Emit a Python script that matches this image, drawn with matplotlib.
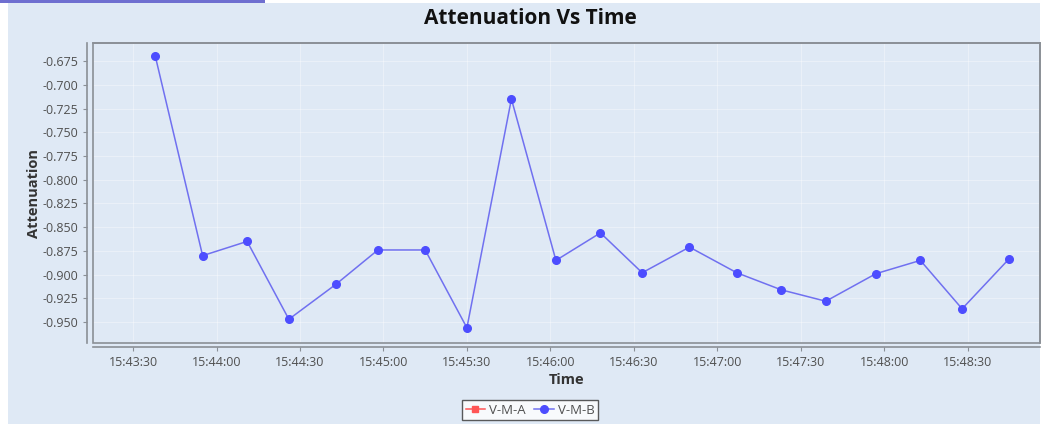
import datetime as dt
import matplotlib
matplotlib.use("Agg")
import matplotlib.pyplot as plt
import matplotlib.dates as mdates
from matplotlib.patches import Rectangle

plt.rcParams['font.family'] = ['Open Sans', 'DejaVu Sans']

times = ["15:43:38", "15:43:55", "15:44:11", "15:44:26", "15:44:43",
         "15:44:58", "15:45:15", "15:45:30", "15:45:46", "15:46:02",
         "15:46:18", "15:46:33", "15:46:50", "15:47:07", "15:47:23",
         "15:47:39", "15:47:57", "15:48:13", "15:48:28", "15:48:45"]
vmb = [-0.670, -0.880, -0.865, -0.947, -0.910,
       -0.874, -0.874, -0.956, -0.715, -0.885,
       -0.856, -0.898, -0.871, -0.898, -0.916,
       -0.928, -0.899, -0.885, -0.936, -0.883]
vma = []

day = dt.date(2020, 1, 1)
t = [dt.datetime.combine(day, dt.datetime.strptime(s, "%H:%M:%S").time()) for s in times]

bg = '#dfe9f5'
fig = plt.figure(figsize=(10.47, 4.24), dpi=100)
fig.patch.set_facecolor('white')
# light panel behind the chart
fig.patches.append(Rectangle((8/1047, 0), (1040-8)/1047, 421/424, transform=fig.transFigure,
                             facecolor=bg, edgecolor='none', zorder=-10))
fig.patches.append(Rectangle((0, 421/424), 265/1047, 3/424, transform=fig.transFigure,
                             facecolor='#6f6fd0', edgecolor='none', zorder=-9))

ax = fig.add_axes([93/1047, 81/424, (1040-93)/1047, 300/424])
ax.set_facecolor(bg)

ax.plot(t, vmb, color='#7070f0', lw=1.1, marker='o', ms=5.5,
        mfc='#4d4dff', mec='#4d4dff', label='V-M-B', zorder=3)
ax.plot(vma, vma, color='#ff5555', lw=1.1, marker='s', ms=5, label='V-M-A')

ax.set_xlim(dt.datetime.combine(day, dt.time(15, 43, 15, 600000)),
            dt.datetime.combine(day, dt.time(15, 48, 56)))
ax.set_ylim(-0.972, -0.656)

ax.xaxis.set_major_locator(mdates.SecondLocator(bysecond=[0, 30]))
ax.xaxis.set_major_formatter(mdates.DateFormatter('%H:%M:%S'))
ax.set_yticks([-0.675 - 0.025 * i for i in range(12)])
ax.yaxis.set_major_formatter(plt.FuncFormatter(lambda v, p: '%.3f' % v))

ax.grid(True, color='white', lw=0.8, alpha=0.35)
ax.set_axisbelow(True)

for s in ['top', 'right']:
    ax.spines[s].set_color('#8a8f96')
    ax.spines[s].set_linewidth(1.2)
ax.spines['left'].set_position(('outward', 4))
ax.spines['bottom'].set_position(('outward', 3))
for s in ['left', 'bottom']:
    ax.spines[s].set_color('#8a8f96')
    ax.spines[s].set_linewidth(1.2)
ax.add_patch(Rectangle((0, 0), 1, 1, transform=ax.transAxes, fill=False,
                       ec='#8a8f96', lw=1.2, clip_on=False, zorder=4))

ax.tick_params(axis='both', colors='#8a8f96', labelcolor='#505050',
               labelsize=9, length=3, width=0.8)

ax.set_xlabel('Time', fontsize=10.5, fontweight='bold', color='#333333', labelpad=3)
ax.set_ylabel('Attenuation', fontsize=10.5, fontweight='bold', color='#333333', labelpad=1)
fig.text(530/1047, 1 - 18/424, 'Attenuation Vs Time', ha='center', va='center',
         fontsize=15, fontweight='bold', color='#111111')

handles, labels = ax.get_legend_handles_labels()
leg = fig.legend(handles[::-1], labels[::-1], loc='center', bbox_to_anchor=(530/1047, 1 - 410/424),
                 ncol=2, fontsize=9.5, frameon=True, fancybox=False, handlelength=1.5,
                 handletextpad=0.3, columnspacing=0.6, borderpad=0.3)
leg.get_frame().set_edgecolor('#333333')
leg.get_frame().set_facecolor('white')
for txt in leg.get_texts():
    txt.set_color('#505050')

fig.savefig('out.png', dpi=100, facecolor=fig.get_facecolor())
